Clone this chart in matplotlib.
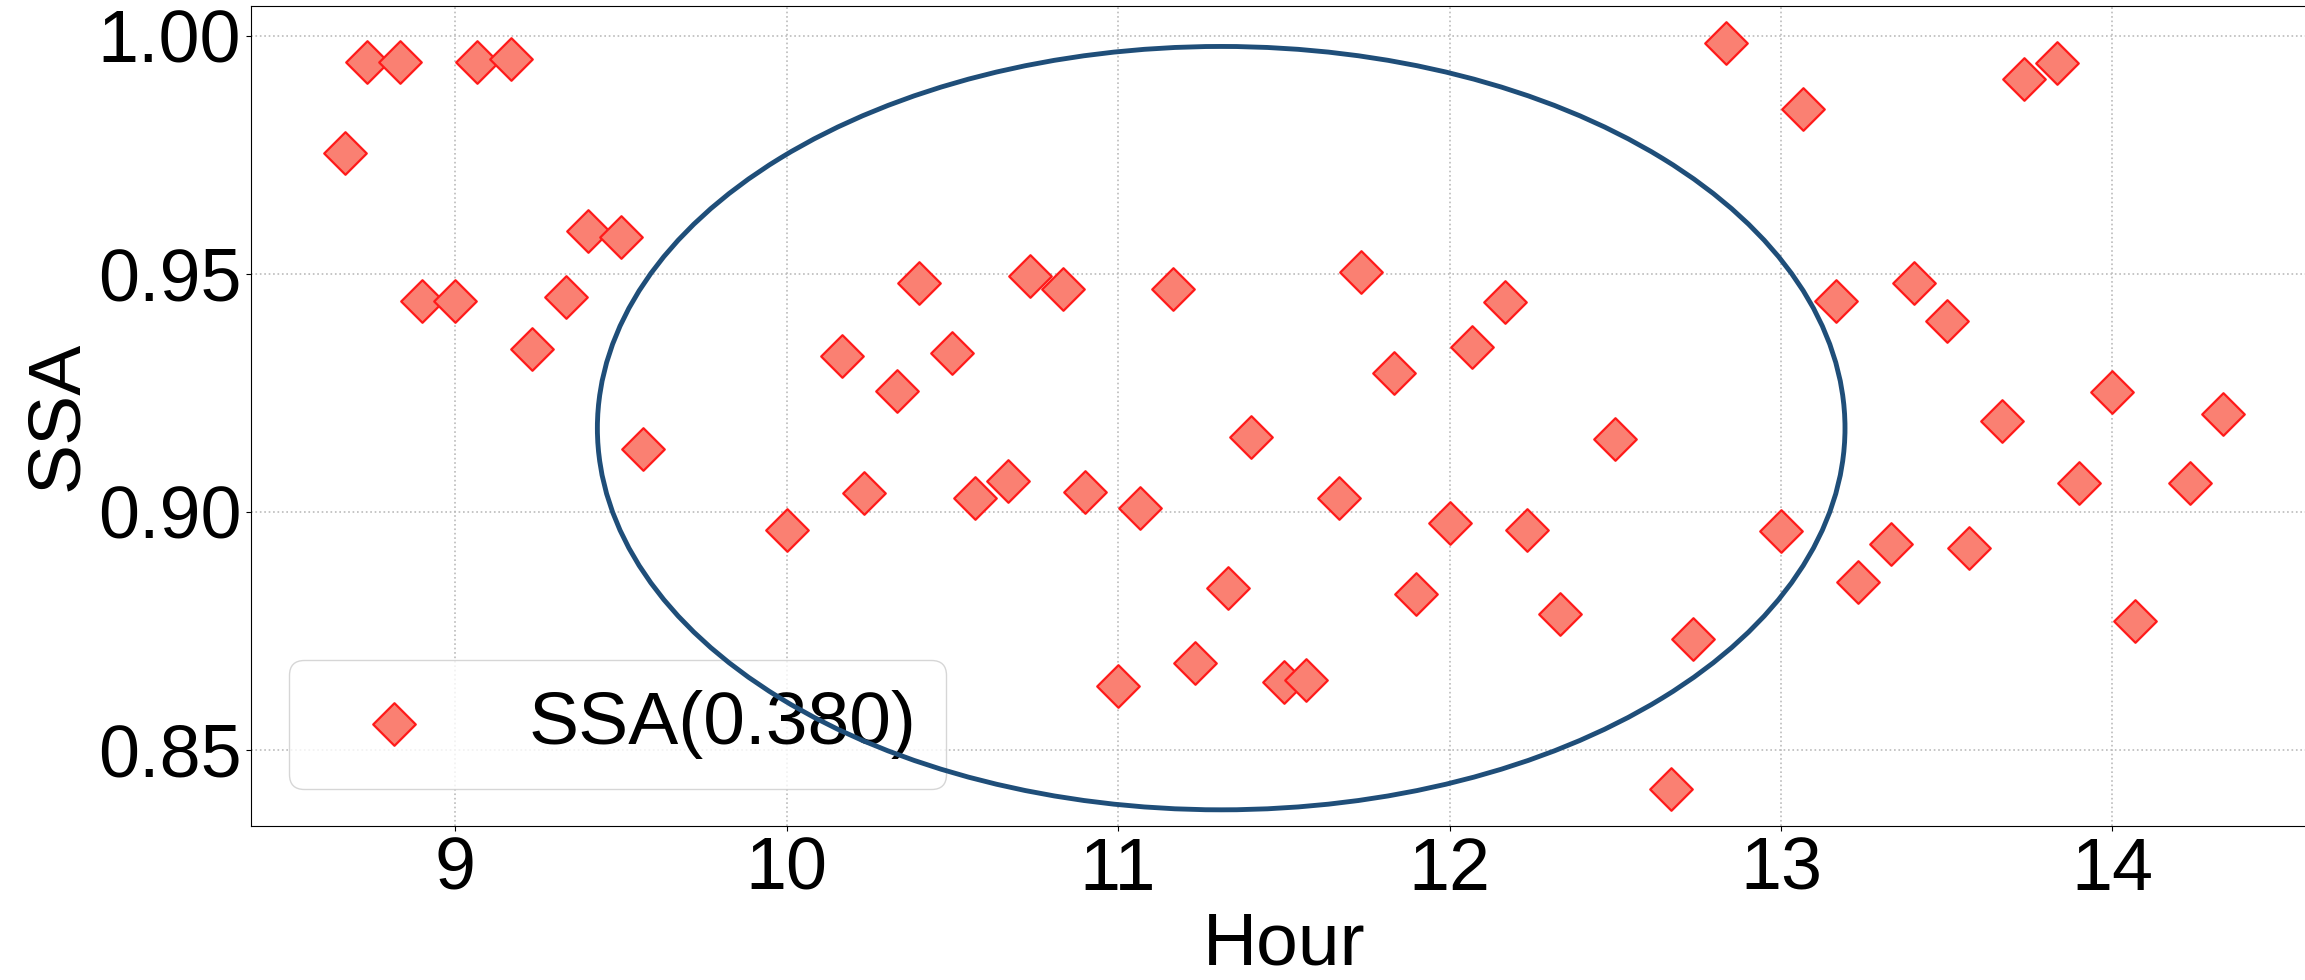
import matplotlib
matplotlib.use("Agg")
import matplotlib.pyplot as plt
from matplotlib.patches import Ellipse

plt.rcParams['font.family'] = ['Liberation Sans', 'DejaVu Sans']

# SSA readings through the day (hour as decimal)
hours = [8.667, 8.733, 8.833, 8.900, 9.000, 9.067, 9.167, 9.233, 9.333, 9.400,
         9.500, 9.567, 10.000, 10.167, 10.233, 10.333, 10.400, 10.500, 10.567, 10.667,
         10.733, 10.833, 10.900, 11.000, 11.067, 11.167, 11.233, 11.333, 11.400, 11.500,
         11.567, 11.667, 11.733, 11.833, 11.900, 12.000, 12.067, 12.167, 12.233, 12.333,
         12.500, 12.667, 12.733, 12.833, 13.000, 13.067, 13.167, 13.233, 13.333, 13.400,
         13.500, 13.567, 13.667, 13.733, 13.833, 13.900, 14.000, 14.067, 14.233, 14.333]
ssa = [0.9754, 0.9946, 0.9946, 0.9443, 0.9443, 0.9946, 0.9951, 0.9342, 0.9451, 0.9591,
       0.9577, 0.9132, 0.8961, 0.9328, 0.9040, 0.9255, 0.9482, 0.9333, 0.9029, 0.9065,
       0.9496, 0.9468, 0.9042, 0.8634, 0.9009, 0.9468, 0.8682, 0.8841, 0.9157, 0.8643,
       0.8646, 0.9029, 0.9505, 0.9291, 0.8827, 0.8976, 0.9347, 0.9440, 0.8962, 0.8785,
       0.9154, 0.8418, 0.8732, 0.9986, 0.8959, 0.9846, 0.9443, 0.8852, 0.8933, 0.9482,
       0.9401, 0.8925, 0.9191, 0.9910, 0.9944, 0.9060, 0.9252, 0.8771, 0.9060, 0.9205]
label = 'SSA(0.380)'

# highlighted region
ell_center = (11.311, 0.9176)
ell_width = 3.764
ell_height = 0.1604

fig = plt.figure(figsize=(23.05, 9.8), dpi=100)
ax = fig.add_axes([251 / 2305, 1 - 826 / 980, 2066 / 2305, 820 / 980])

ax.scatter(hours, ssa, marker='D', s=470, c='#FA8072', edgecolors='#FF1A1A',
           linewidths=1.6, label=label, zorder=3)

ell = Ellipse(ell_center, ell_width, ell_height, fill=False,
              edgecolor='#1F4E79', linewidth=3.5, zorder=6)
ax.add_patch(ell)

ax.set_xlim(8.384, 14.617)
ax.set_ylim(0.834, 1.0063)
ax.set_xticks([9, 10, 11, 12, 13, 14])
ax.set_yticks([0.85, 0.90, 0.95, 1.00])
ax.set_yticklabels(['0.85', '0.90', '0.95', '1.00'])
ax.tick_params(labelsize=53)
ax.set_xlabel('Hour', fontsize=54)
ax.set_ylabel('SSA', fontsize=54)
ax.grid(True, linestyle=':', color='#bbbbbb', linewidth=1.2)
ax.set_axisbelow(True)

leg = ax.legend(loc='lower left', fontsize=54, fancybox=True, framealpha=0.8)
leg.set_zorder(5)

fig.savefig('out.png', dpi=100)
